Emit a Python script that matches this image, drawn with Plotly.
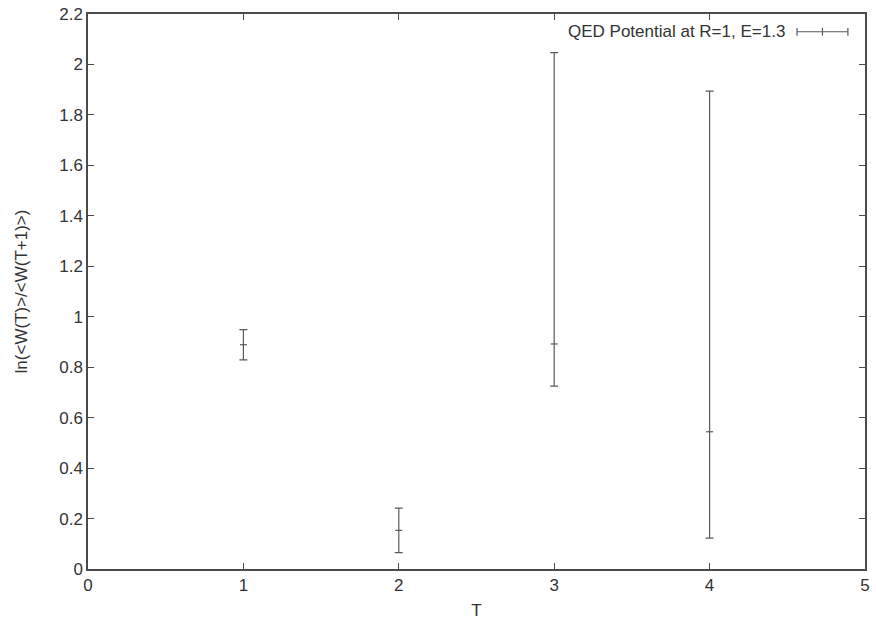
import plotly.graph_objects as go

T = [1, 2, 3, 4]
ratio = [0.889, 0.153, 0.892, 0.544]
err_plus = [0.06, 0.088, 1.155, 1.350]
err_minus = [0.06, 0.088, 0.167, 0.422]

legend_label = "QED Potential at R=1, E=1.3"
x_ticks = [0, 1, 2, 3, 4, 5]
y_ticks = [0, 0.2, 0.4, 0.6, 0.8, 1, 1.2, 1.4, 1.6, 1.8, 2, 2.2]
y_tick_text = ["0", "0.2", "0.4", "0.6", "0.8", "1", "1.2", "1.4", "1.6", "1.8", "2", "2.2"]

line_col = "#5a5a5a"
axis_col = "#4a4a4a"
text_col = "#333"
font = "Liberation Sans, Arial, Helvetica, sans-serif"
fs = 17

fig = go.Figure()
fig.add_trace(go.Scatter(
    x=T, y=ratio, mode="markers",
    marker=dict(symbol="line-ew", size=5, line=dict(color=line_col, width=1.2)),
    error_y=dict(type="data", symmetric=False, array=err_plus, arrayminus=err_minus,
                 color=line_col, thickness=1.2, width=4),
    showlegend=False,
))

# legend drawn manually in gnuplot style
fig.add_annotation(xref="paper", yref="paper", x=0.8996, y=0.968, xanchor="right", yanchor="middle",
                   text=legend_label, showarrow=False, font=dict(family=font, size=fs, color=text_col))
lx0, lx1, ly = 0.9125, 0.978, 0.968
fig.add_shape(type="line", xref="paper", yref="paper", x0=lx0, x1=lx1, y0=ly, y1=ly,
              line=dict(color=line_col, width=1.2))
for px in [lx0, (lx0 + lx1) / 2, lx1]:
    fig.add_shape(type="line", xref="paper", yref="paper", x0=px, x1=px, y0=ly - 0.007, y1=ly + 0.007,
                  line=dict(color=line_col, width=1.2))

axis_common = dict(showgrid=False, zeroline=False, showline=True, linecolor=axis_col, linewidth=1.5,
                   mirror="ticks", ticks="inside", ticklen=6, tickcolor=axis_col, tickwidth=1.2,
                   automargin=False, tickfont=dict(family=font, size=fs, color=text_col))

fig.update_xaxes(range=[0, 5], tickvals=x_ticks, ticktext=[str(v) for v in x_ticks],
                 title=dict(text="T", font=dict(family=font, size=fs, color=text_col), standoff=15),
                 **axis_common)
fig.update_yaxes(range=[0, 2.2], tickvals=y_ticks, ticktext=y_tick_text,
                 title=dict(text="ln(<W(T)>/<W(T+1)>)", font=dict(family=font, size=fs, color=text_col), standoff=27),
                 **axis_common)

fig.update_layout(width=876, height=620, margin=dict(l=88, r=11, t=14, b=51),
                  paper_bgcolor="white", plot_bgcolor="white", font=dict(family=font))

fig.write_html("out.html")
